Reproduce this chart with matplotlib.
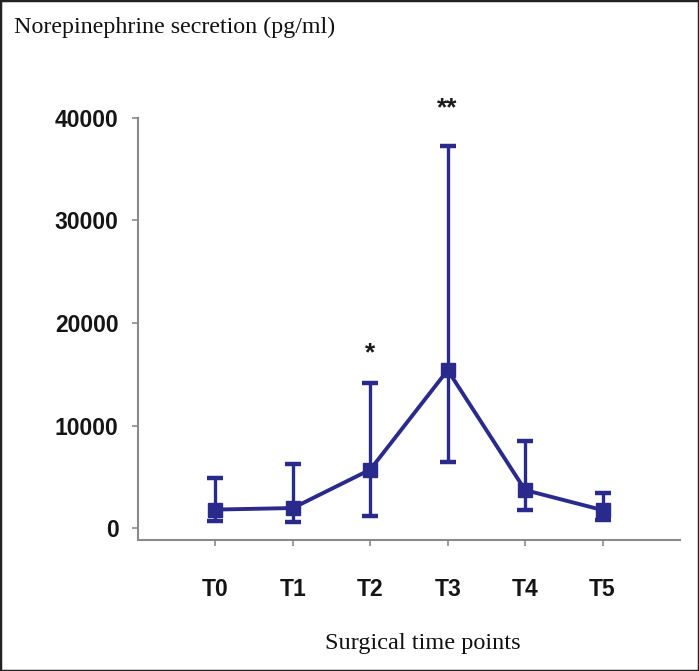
import matplotlib
matplotlib.use("Agg")
import matplotlib.pyplot as plt
from matplotlib.patches import Rectangle

time_points = ["T0", "T1", "T2", "T3", "T4", "T5"]
mean_values = [1800, 1950, 5700, 15400, 3700, 1750]
err_upper = [4900, 6250, 14100, 37250, 8500, 3400]
err_lower = [700, 600, 1200, 6450, 1750, 800]
y_ticks = [0, 10000, 20000, 30000, 40000]
star_labels = {2: "*", 3: "**"}

color = "#2a2a8c"

fig = plt.figure(figsize=(6.99, 6.71), dpi=100)
ax = fig.add_axes([0.1974, 0.1952, 0.7754, 0.629])

x = list(range(len(time_points)))
lower = [m - lo for m, lo in zip(mean_values, err_lower)]
upper = [hi - m for m, hi in zip(mean_values, err_upper)]

ax.errorbar(x, mean_values, yerr=[lower, upper], color=color, lw=2.8,
            marker="s", markersize=10.5, ecolor=color, elinewidth=2.4,
            capsize=5.5, capthick=3.2, zorder=3)

ax.set_xlim(-1, 6)
ax.set_ylim(-1170, 40000)
ax.set_xticks(x)
ax.set_xticklabels(time_points)
ax.set_yticks(y_ticks)
ax.set_yticklabels([str(v) for v in y_ticks])

for side in ["top", "right"]:
    ax.spines[side].set_visible(False)
for side in ["left", "bottom"]:
    ax.spines[side].set_color("#8a8a8a")
    ax.spines[side].set_linewidth(1.5)

ax.tick_params(axis="both", colors="#8a8a8a", length=4, width=1.2)
ax.tick_params(axis="y", pad=10, labelcolor="#151515", labelsize=16.5)
ax.tick_params(axis="x", pad=23, labelcolor="#151515", labelsize=16.5)
for lab in ax.get_xticklabels() + ax.get_yticklabels():
    lab.set_family("Liberation Sans")
    lab.set_fontweight("semibold")

offsets = {2: 22, 3: 27}
for idx, s in star_labels.items():
    ax.annotate(s, xy=(x[idx], err_upper[idx]), xytext=(0, offsets[idx]),
                textcoords="offset points", ha="center", va="center",
                fontsize=19, fontweight="bold", family="Liberation Sans",
                color="#1a1a1a", annotation_clip=False)

fig.text(14 / 699, 1 - 27 / 671, "Norepinephrine secretion (pg/ml)",
         family="Liberation Serif", fontsize=17.3, ha="left", va="center",
         color="#111111")
fig.text(423 / 699, 1 - 643 / 671, "Surgical time points",
         family="Liberation Serif", fontsize=17.5, ha="center", va="center",
         color="#111111")

fig.patches.append(Rectangle((0, 0), 1, 1, transform=fig.transFigure,
                             fill=False, edgecolor="#222222", linewidth=2.5))

fig.savefig("out.png", dpi=100)
